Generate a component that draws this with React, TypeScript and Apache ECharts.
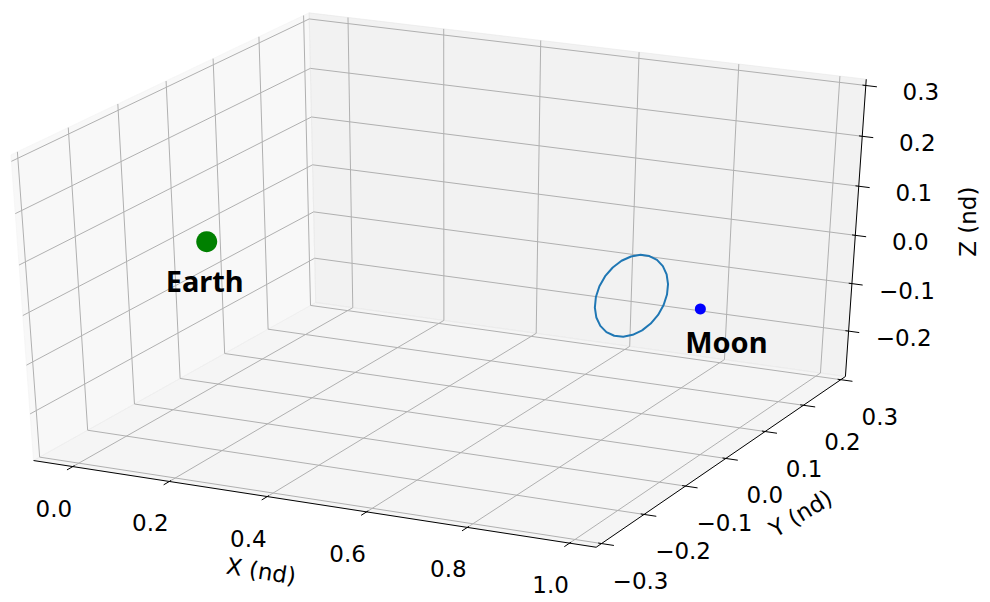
import React, { useEffect, useRef } from "react";
import * as echarts from "echarts";

// ---- Axis limits (non-dimensional CR3BP units) ----
const xLim = [-0.0594, 1.0289];
const yLim = [-0.3, 0.3];
const zLim = [-0.285, 0.3];

// ---- Ticks ----
const xTicks = [0.0, 0.2, 0.4, 0.6, 0.8, 1.0];
const yTicks = [-0.3, -0.2, -0.1, 0.0, 0.1, 0.2, 0.3];
const zTicks = [-0.2, -0.1, 0.0, 0.1, 0.2, 0.3];
const xTickLabels = ["0.0", "0.2", "0.4", "0.6", "0.8", "1.0"];
const yTickLabels = ["\u22120.3", "\u22120.2", "\u22120.1", "0.0", "0.1", "0.2", "0.3"];
const zTickLabels = ["\u22120.2", "\u22120.1", "0.0", "0.1", "0.2", "0.3"];
const axisNames = ["X (nd)", "Y (nd)", "Z (nd)"];

// ---- Primaries ----
const bodyNames = ["Earth", "Moon"];
const bodyX = [-0.01215, 0.98785];
const bodyY = [0.0, 0.0];
const bodyZ = [0.0, 0.0];

// ---- Halo orbit about L1 ----
const orbitX = [
  0.8754, 0.8746, 0.8724, 0.8688, 0.8642, 0.8588, 0.853, 0.8472, 0.8418, 0.8372, 0.8336, 0.8314, 0.8306,
  0.8314, 0.8336, 0.8372, 0.8418, 0.8472, 0.853, 0.8588, 0.8642, 0.8688, 0.8724, 0.8746, 0.8754,
];
const orbitY = [
  0.0, 0.0217, 0.042, 0.0594, 0.0727, 0.0811, 0.084, 0.0811, 0.0727, 0.0594, 0.042, 0.0217, 0.0,
  -0.0217, -0.042, -0.0594, -0.0727, -0.0811, -0.084, -0.0811, -0.0727, -0.0594, -0.042, -0.0217, 0.0,
];
const orbitZ = [
  -0.0587, -0.0564, -0.0498, -0.0392, -0.0254, -0.0093, 0.008, 0.0253, 0.0414, 0.0552, 0.0658, 0.0724, 0.0747,
  0.0724, 0.0658, 0.0552, 0.0414, 0.0253, 0.008, -0.0093, -0.0254, -0.0392, -0.0498, -0.0564, -0.0587,
];

// ---- View / camera ----
const ELEV = 30;
const AZIM = -64;
const DIST = 10;
const W = 990;
const H = 602;
// screen placement of the projected plane
const SX = 5978;
const SY = 3339;
const X0 = 447.7;
const Y0 = 270.9;

const e = (ELEV * Math.PI) / 180;
const a = (AZIM * Math.PI) / 180;
const U = [-Math.sin(a), Math.cos(a), 0];
const V = [-Math.sin(e) * Math.cos(a), -Math.sin(e) * Math.sin(a), Math.cos(e)];
const N = [Math.cos(a) * Math.cos(e), Math.sin(a) * Math.cos(e), Math.sin(e)];

const nrm = (v: number, lim: number[]) => (v - lim[0]) / (lim[1] - lim[0]) - 0.5;

function project(x: number, y: number, z: number): number[] {
  const p = [nrm(x, xLim), nrm(y, yLim), nrm(z, zLim)];
  const dot = (q: number[]) => q[0] * p[0] + q[1] * p[1] + q[2] * p[2];
  const w = DIST - dot(N);
  return [dot(U) / w, dot(V) / w];
}

const paneLim = (lim: number[]) => {
  const r = lim[1] - lim[0];
  return [lim[0] - r / 48, lim[1] + r / 48];
};
const XP = paneLim(xLim);
const YP = paneLim(yLim);
const ZP = paneLim(zLim);
const xr = xLim[1] - xLim[0];
const yr = yLim[1] - yLim[0];

const TICK_FONT = '23px "DejaVu Sans"';
const GRID_COLOR = "#b0b0b0";

function renderFrame(_params: any, api: any) {
  const P = (x: number, y: number, z: number) => api.coord(project(x, y, z));
  const children: any[] = [];

  // panes
  const panes = [
    {
      pts: [P(XP[0], YP[0], ZP[0]), P(XP[0], YP[1], ZP[0]), P(XP[0], YP[1], ZP[1]), P(XP[0], YP[0], ZP[1])],
      c: "rgba(242,242,242,0.5)",
    },
    {
      pts: [P(XP[0], YP[1], ZP[0]), P(XP[1], YP[1], ZP[0]), P(XP[1], YP[1], ZP[1]), P(XP[0], YP[1], ZP[1])],
      c: "rgba(230,230,230,0.5)",
    },
    {
      pts: [P(XP[0], YP[0], ZP[0]), P(XP[1], YP[0], ZP[0]), P(XP[1], YP[1], ZP[0]), P(XP[0], YP[1], ZP[0])],
      c: "rgba(236,236,236,0.5)",
    },
  ];
  panes.forEach((p) =>
    children.push({ type: "polygon", shape: { points: p.pts }, style: { fill: p.c, stroke: p.c, lineWidth: 1 } })
  );

  const line = (pts: number[][], stroke: string, lw: number) =>
    children.push({ type: "polyline", shape: { points: pts }, style: { stroke, lineWidth: lw, fill: null } });

  // grid lines
  xTicks.forEach((x) => line([P(x, YP[0], ZP[0]), P(x, YP[1], ZP[0]), P(x, YP[1], ZP[1])], GRID_COLOR, 1));
  yTicks.forEach((y) => line([P(XP[1], y, ZP[0]), P(XP[0], y, ZP[0]), P(XP[0], y, ZP[1])], GRID_COLOR, 1));
  zTicks.forEach((z) => line([P(XP[0], YP[0], z), P(XP[0], YP[1], z), P(XP[1], YP[1], z)], GRID_COLOR, 1));

  // axis lines
  line([P(XP[0], YP[0], ZP[0]), P(XP[1], YP[0], ZP[0])], "#000", 1);
  line([P(XP[1], YP[0], ZP[0]), P(XP[1], YP[1], ZP[0])], "#000", 1);
  line([P(XP[1], YP[1], ZP[0]), P(XP[1], YP[1], ZP[1])], "#000", 1);

  const text = (x: number, y: number, s: string, rot = 0) =>
    children.push({
      type: "text",
      x,
      y,
      rotation: rot,
      style: { text: s, font: TICK_FONT, fill: "#000", align: "center", verticalAlign: "middle" },
    });

  // x ticks (pointing toward -y)
  xTicks.forEach((x, i) => {
    line([P(x, YP[0] + 0.006 * yr, ZP[0]), P(x, YP[0] - 0.02 * yr, ZP[0])], "#000", 1);
    const q = P(x, YP[0], ZP[0]);
    text(q[0] - 19, q[1] + 42, xTickLabels[i]);
  });
  // y ticks (pointing toward +x)
  yTicks.forEach((y, i) => {
    line([P(XP[1] - 0.006 * xr, y, ZP[0]), P(XP[1] + 0.022 * xr, y, ZP[0])], "#000", 1);
    const q = P(XP[1], y, ZP[0]);
    text(q[0] + 39, q[1] + 37, yTickLabels[i]);
  });
  // z ticks (pointing toward +x)
  zTicks.forEach((z, i) => {
    line([P(XP[1] - 0.006 * xr, YP[1], z), P(XP[1] + 0.02 * xr, YP[1], z)], "#000", 1);
    const q = P(XP[1], YP[1], z);
    text(q[0] + 55, q[1] + 7, zTickLabels[i]);
  });

  // axis titles
  const xm = P((XP[0] + XP[1]) / 2, YP[0], ZP[0]);
  text(xm[0] - 48, xm[1] + 68, axisNames[0], (-9 * Math.PI) / 180);
  const ym = P(XP[1], (YP[0] + YP[1]) / 2, ZP[0]);
  text(ym[0] + 75, ym[1] + 55, axisNames[1], (31 * Math.PI) / 180);
  const zm = P(XP[1], YP[1], (ZP[0] + ZP[1]) / 2);
  text(zm[0] + 112, zm[1] - 10, axisNames[2], Math.PI / 2);

  return { type: "group", children };
}

export default function App() {
  const ref = useRef<HTMLDivElement>(null);

  useEffect(() => {
    if (!ref.current) return;
    const chart = echarts.init(ref.current, undefined, { renderer: "svg" });

    const orbitData = orbitX.map((x, i) => project(x, orbitY[i], orbitZ[i]));
    const labelOffsets = [
      [-2, 39],
      [26, 32],
    ];
    const bodyColors = ["#008000", "#0000ff"];
    const bodySizes = [21, 11];
    const bodyData = bodyNames.map((name, i) => ({
      name,
      value: project(bodyX[i], bodyY[i], bodyZ[i]),
      symbolSize: bodySizes[i],
      itemStyle: { color: bodyColors[i], opacity: 1 },
      label: { offset: labelOffsets[i] },
    }));

    chart.setOption({
      animation: false,
      backgroundColor: "#ffffff",
      grid: { left: 0, right: 0, top: 0, bottom: 0 },
      xAxis: { type: "value", min: -X0 / SX, max: (W - X0) / SX, show: false },
      yAxis: { type: "value", min: -(H - Y0) / SY, max: Y0 / SY, show: false },
      series: [
        {
          type: "custom",
          coordinateSystem: "cartesian2d",
          renderItem: renderFrame,
          data: [[0, 0]],
          clip: false,
          silent: true,
          z: 1,
        },
        {
          type: "line",
          data: orbitData,
          showSymbol: false,
          symbol: "none",
          lineStyle: { color: "#1f77b4", width: 2, opacity: 1 },
          z: 2,
          silent: true,
        },
        {
          type: "scatter",
          data: bodyData,
          z: 3,
          silent: true,
          itemStyle: { opacity: 1 },
          label: {
            show: true,
            formatter: "{b}",
            position: "inside",
            color: "#000000",
            opacity: 1,
            fontFamily: "Noto Sans",
            fontWeight: "bold",
            fontSize: 29,
          },
        },
      ],
    });
    return () => chart.dispose();
  }, []);

  return <div ref={ref} style={{ position: "absolute", left: 0, top: 0, width: W, height: H }} />;
}
